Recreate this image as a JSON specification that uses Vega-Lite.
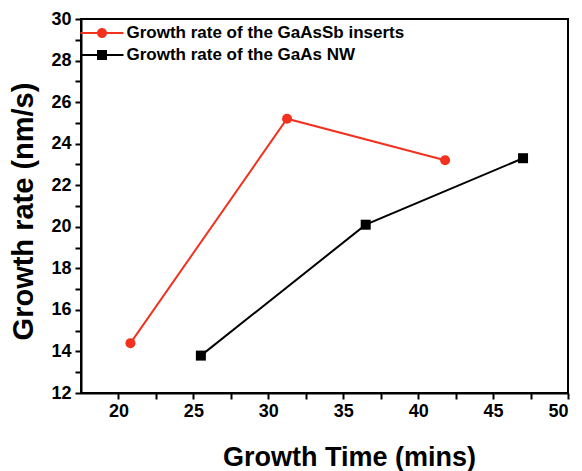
{
  "$schema": "https://vega.github.io/schema/vega-lite/v6.json",
  "width": 487,
  "height": 374,
  "autosize": "none",
  "padding": {"left": 81, "top": 19, "right": 14, "bottom": 78},
  "background": "white",
  "config": {
    "view": {"stroke": "#000", "strokeWidth": 2},
    "font": "Liberation Sans",
    "axis": {
      "domainColor": "#000",
      "domainWidth": 2,
      "tickColor": "#000",
      "tickWidth": 2,
      "tickSize": 6,
      "grid": false,
      "labelFont": "Liberation Sans",
      "labelFontWeight": "bold",
      "labelFontSize": 18,
      "labelColor": "#000",
      "titleFont": "Liberation Sans",
      "titleFontWeight": "bold",
      "titleFontSize": 27,
      "titleColor": "#000"
    }
  },
  "data": {
    "values": [
      {"series": "Growth rate of the GaAsSb inserts", "time": 20.8, "rate": 14.4},
      {"series": "Growth rate of the GaAsSb inserts", "time": 31.25, "rate": 25.2},
      {"series": "Growth rate of the GaAsSb inserts", "time": 41.8, "rate": 23.2},
      {"series": "Growth rate of the GaAs NW", "time": 25.5, "rate": 13.8},
      {"series": "Growth rate of the GaAs NW", "time": 36.5, "rate": 20.1},
      {"series": "Growth rate of the GaAs NW", "time": 47.0, "rate": 23.3}
    ]
  },
  "encoding": {
    "x": {
      "field": "time", "type": "quantitative",
      "scale": {"domain": [17.5, 50], "nice": false, "zero": false},
      "axis": {
        "orient": "bottom",
        "values": [20, 22.5, 25, 27.5, 30, 32.5, 35, 37.5, 40, 42.5, 45, 47.5, 50],
        "labelExpr": "datum.value % 5 === 0 ? datum.label : ''",
        "tickSize": 6,
        "labelPadding": 3,
        "title": "Growth Time (mins)",
        "titlePadding": 24,
        "titleX": 268
      }
    },
    "y": {
      "field": "rate", "type": "quantitative",
      "scale": {"domain": [12, 30], "nice": false, "zero": false},
      "axis": {
        "orient": "left",
        "values": [12, 13, 14, 15, 16, 17, 18, 19, 20, 21, 22, 23, 24, 25, 26, 27, 28, 29, 30],
        "labelExpr": "datum.value % 2 === 0 ? datum.label : ''",
        "tickSize": 6,
        "labelPadding": 4,
        "title": "Growth rate (nm/s)",
        "titleFontSize": 29,
        "titlePadding": 12,
        "titleY": 192
      }
    },
    "color": {
      "field": "series", "type": "nominal",
      "scale": {"domain": ["Growth rate of the GaAsSb inserts", "Growth rate of the GaAs NW"], "range": ["#f2321e", "#000000"]},
      "legend": {
        "title": null,
        "orient": "none",
        "legendX": 11,
        "legendY": 4,
        "padding": 0,
        "symbolSize": 400,
        "symbolType": "M-2.15,-0.1H2.15V0.1H-2.15Z M0.5,0A0.5,0.5,0,1,1,-0.5,0A0.5,0.5,0,1,1,0.5,0Z",
        "rowPadding": 4,
        "labelOffset": 14.5,
        "labelFont": "Liberation Sans",
        "labelFontWeight": "bold",
        "labelFontSize": 17,
        "labelColor": "#000",
        "labelLimit": 400,
        "encode": {
          "symbols": {
            "shape": {"signal": "datum.value === 'Growth rate of the GaAs NW' ? 'M-2.15,-0.1H2.15V0.1H-2.15Z M-0.5,-0.5H0.5V0.5H-0.5Z' : 'M-2.15,-0.1H2.15V0.1H-2.15Z M0.5,0A0.5,0.5,0,1,1,-0.5,0A0.5,0.5,0,1,1,0.5,0Z'"},
            "fill": {"scale": "color", "field": "value"},
            "strokeWidth": {"value": 0},
            "opacity": {"value": 1},
            "fillOpacity": {"value": 1},
            "update": {
              "shape": {"signal": "datum.value === 'Growth rate of the GaAs NW' ? 'M-2.15,-0.1H2.15V0.1H-2.15Z M-0.5,-0.5H0.5V0.5H-0.5Z' : 'M-2.15,-0.1H2.15V0.1H-2.15Z M0.5,0A0.5,0.5,0,1,1,-0.5,0A0.5,0.5,0,1,1,0.5,0Z'"},
              "fill": {"scale": "color", "field": "value"},
              "strokeWidth": {"value": 0},
              "opacity": {"value": 1},
              "fillOpacity": {"value": 1}
            }
          }
        }
      }
    }
  },
  "layer": [
    {"mark": {"type": "line", "strokeWidth": 2}},
    {
      "transform": [{"filter": "datum.series === 'Growth rate of the GaAsSb inserts'"}],
      "mark": {"type": "point", "filled": true, "opacity": 1, "size": 100, "shape": "circle"}
    },
    {
      "transform": [{"filter": "datum.series === 'Growth rate of the GaAs NW'"}],
      "mark": {"type": "point", "filled": true, "opacity": 1, "size": 100, "shape": "square"}
    }
  ]
}
